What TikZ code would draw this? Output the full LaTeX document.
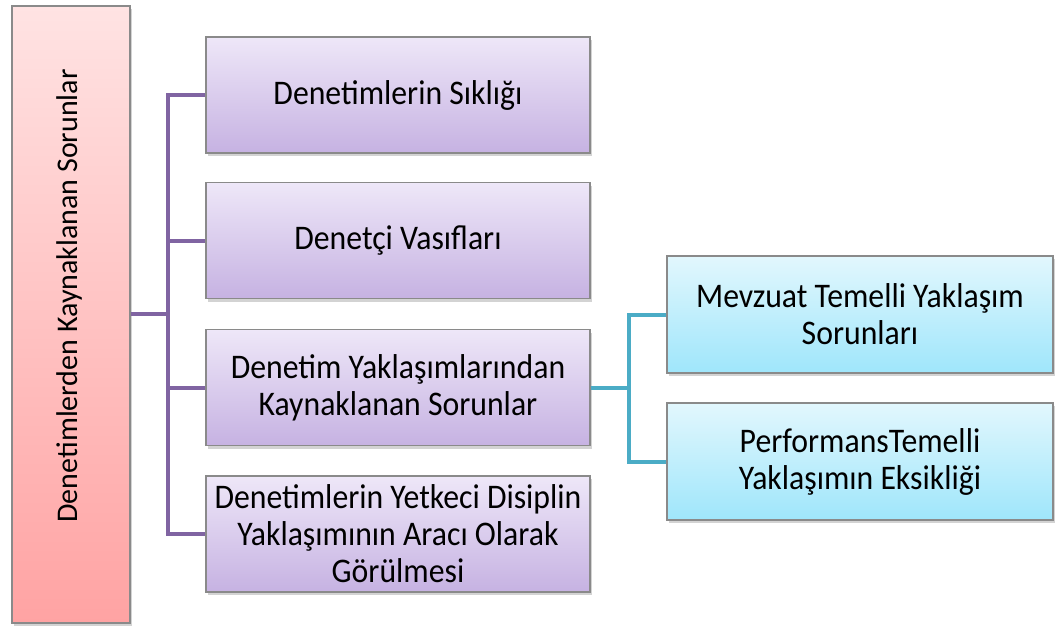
\documentclass[tikz,border=0pt]{standalone}
\usepackage{fontspec}
\setmainfont{Carlito}
\newfontfamily\boxfont[FakeStretch=0.92]{Carlito}
\usepackage{xcolor}
\usepackage{tikz}
\usetikzlibrary{shadows}

\definecolor{rootTop}{HTML}{FFE3E3}
\definecolor{rootBot}{HTML}{FFA3A3}
\definecolor{purpTop}{HTML}{EEE7F8}
\definecolor{purpBot}{HTML}{C6B2E2}
\definecolor{cyanTop}{HTML}{E2F7FD}
\definecolor{cyanBot}{HTML}{9FE6FB}
\definecolor{purpLine}{HTML}{8064A2}
\definecolor{tealLine}{HTML}{4BACC6}
\definecolor{boxEdge}{HTML}{8A8A8A}

\begin{document}
\begin{tikzpicture}[x=1pt, y=-1pt,
    box/.style={draw=boxEdge, line width=1.2pt, rectangle, align=center,
        font=\boxfont\fontsize{34.5}{37}\selectfont, inner sep=0pt,
        drop shadow={opacity=0.35, shadow xshift=2pt, shadow yshift=-3pt}},
    purpbox/.style={box, top color=purpTop, bottom color=purpBot,
        minimum width=384pt, minimum height=116pt},
    cyanbox/.style={box, top color=cyanTop, bottom color=cyanBot,
        minimum width=386pt, minimum height=117pt},
    purpconn/.style={draw=purpLine, line width=4pt},
    tealconn/.style={draw=tealLine, line width=4pt}]
            \useasboundingbox (0,0) rectangle (1061,626);

            % Root
            \node[box, top color=rootTop, bottom color=rootBot,
                minimum width=118pt, minimum height=617pt] (root) at (71,314.5) {};
            \node[rotate=90, font=\fontsize{30}{36}\selectfont] (roottext) at (70,296) {Denetimlerden Kaynaklanan Sorunlar};

            % Frequency
            \node[purpbox] (freq) at (398,95) {Denetimlerin Sıklığı};

            % Auditor qualifications
            \node[purpbox] (qual) at (398,240.5) {Denetçi Vasıfları};

            % Approaches
            \node[purpbox] (appr) at (398,387.5) {Denetim Yaklaşımlarından\\Kaynaklanan Sorunlar};

            % Discipline
            \node[purpbox] (disc) at (398,534) {Denetimlerin Yetkeci Disiplin\\Yaklaşımının Aracı Olarak\\Görülmesi};

            % Legislation based
            \node[cyanbox] (legis) at (860,314.5) {Mevzuat Temelli Yaklaşım\\Sorunları};

            % Performance based
            \node[cyanbox] (perf) at (860,461.5) {PerformansTemelli\\Yaklaşımın Eksikliği};

            % Junctions
            \coordinate (pj) at (168,314);
            \coordinate (tj) at (629,387.5);

            % Connectors
            \draw[purpconn] (root.east |- pj) -- (pj);
            \draw[purpconn] (pj) |- (freq.west);
            \draw[purpconn] (pj) |- (qual.west);
            \draw[purpconn] (pj) |- (appr.west);
            \draw[purpconn] (pj) |- (disc.west);
            \draw[tealconn] (appr.east) -- (tj);
            \draw[tealconn] (tj) |- (legis.west);
            \draw[tealconn] (tj) |- (perf.west);
        \end{tikzpicture}
\end{document}
